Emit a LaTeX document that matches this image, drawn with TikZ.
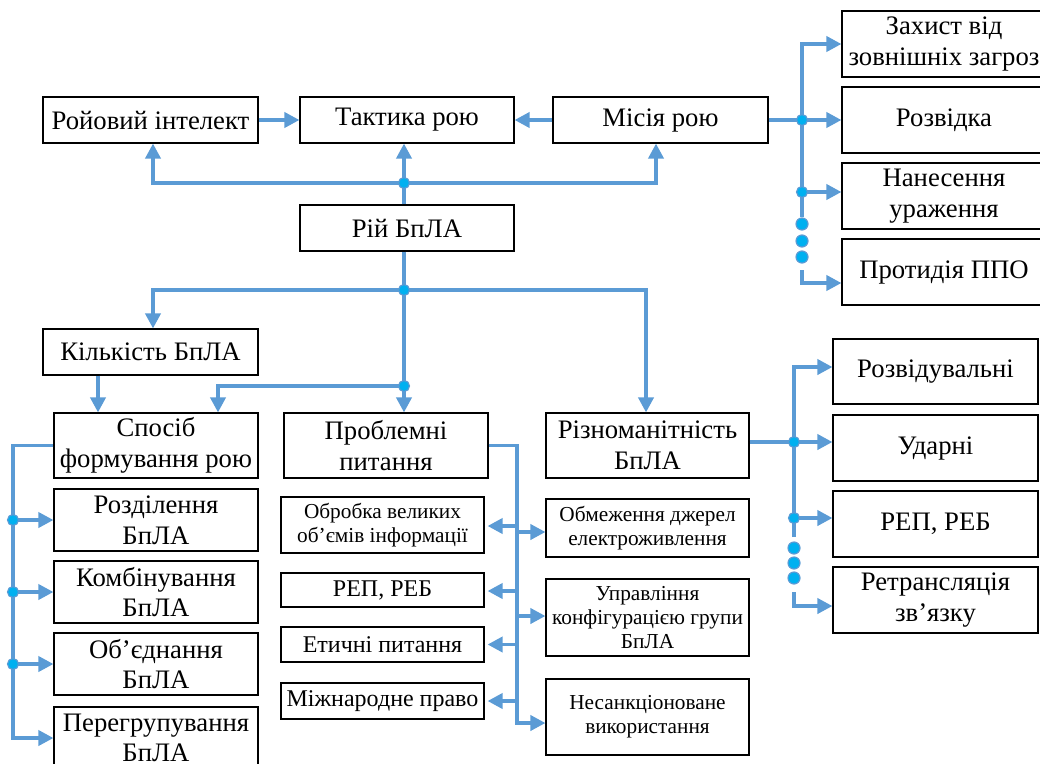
\documentclass[tikz,border=0pt]{standalone}
\usepackage{fontspec}
\setmainfont{Liberation Serif}
\usetikzlibrary{arrows.meta}
\definecolor{ln}{RGB}{91,155,213}
\definecolor{dotc}{RGB}{0,176,240}
\newcommand\fzA{\fontsize{26.7}{30.7}\selectfont}
\newcommand\fzB{\fontsize{24}{27.6}\selectfont}
\newcommand\fzC{\fontsize{21.3}{23.6}\selectfont}
\begin{document}
\begin{tikzpicture}[x=1pt,y=-1pt,
  box/.style={draw=black,line width=1.1pt,inner sep=0pt,align=center,font=\fzA},
  conn/.style={draw=ln,line width=3.6pt},
  arr/.style={conn,-{Triangle[length=15pt,width=15pt]}},
  jd/.style={circle,fill=dotc,draw=ln,line width=1.2pt,minimum size=11pt,inner sep=0pt},
  ed/.style={circle,fill=dotc,draw=ln,line width=1.2pt,minimum size=12pt,inner sep=0pt}]
\useasboundingbox (0,0) rectangle (1040,763);
\clip (0,0) rectangle (1040,763);
% top row
\node[box,minimum width=215pt,minimum height=46pt] (roi) at (150.5,120) {Ройовий інтелект};
\node[box,minimum width=214pt,minimum height=46pt] (takt) at (407,120) {Тактика рою};
\node[box,minimum width=215pt,minimum height=46pt] (misia) at (660.5,120) {Місія рою};
\node[box,minimum width=214pt,minimum height=46pt] (rii) at (407,228) {Рій БпЛА};
\node[box,minimum width=215pt,minimum height=46pt] (kilk) at (150.5,352) {Кількість БпЛА};
% second level
\node[box,minimum width=204pt,minimum height=65pt] (sposib) at (156,445.5) {Спосіб\\формування рою};
\node[box,minimum width=204pt,minimum height=65pt] (probl) at (386,445.5) {Проблемні\\питання};
\node[box,minimum width=203pt,minimum height=65pt] (rizn) at (647.5,445.5) {Різноманітність\\БпЛА};
% left column
\node[box,minimum width=204pt,minimum height=62pt] (rozd) at (156,520) {Розділення\\БпЛА};
\node[box,minimum width=204pt,minimum height=62pt] (komb) at (156,592) {Комбінування\\БпЛА};
\node[box,minimum width=204pt,minimum height=62pt] (obied) at (156,664) {Об’єднання\\БпЛА};
\node[box,minimum width=204pt,minimum height=62pt] (pereg) at (156,738) {Перегрупування\\БпЛА};
% middle columns
\node[box,font=\fzC,minimum width=203pt,minimum height=56pt] (obrob) at (382.5,525) {Обробка великих\\об’ємів інформації};
\node[box,font=\fzB,minimum width=203pt,minimum height=34pt] (rep1) at (382.5,590) {РЕП, РЕБ};
\node[box,font=\fzB,minimum width=203pt,minimum height=35pt] (etych) at (382.5,644.5) {Етичні питання};
\node[box,font=\fzB,minimum width=203pt,minimum height=36pt] (mizhn) at (382.5,701) {Міжнародне право};
\node[box,font=\fzC,minimum width=203pt,minimum height=58pt] (obmezh) at (647.5,528) {Обмеження джерел\\електроживлення};
\node[box,font=\fzC,minimum width=203pt,minimum height=77pt] (uprav) at (647.5,617.5) {Управління\\конфігурацією групи\\БпЛА};
\node[box,font=\fzC,minimum width=203pt,minimum height=76pt] (nesank) at (647.5,717) {Несанкціоноване\\використання};
% right top column
\node[box,minimum width=204pt,minimum height=66pt] (zakh) at (944,44) {Захист від\\зовнішніх загроз};
\node[box,minimum width=204pt,minimum height=66pt] (rozv) at (944,120) {Розвідка};
\node[box,minimum width=204pt,minimum height=66pt] (nanes) at (944,196) {Нанесення\\ураження};
\node[box,minimum width=204pt,minimum height=66pt] (protyd) at (944,272) {Протидія ППО};
% right bottom column
\node[box,minimum width=205pt,minimum height=65pt] (rozvid) at (935.5,371.5) {Розвідувальні};
\node[box,minimum width=205pt,minimum height=66pt] (udar) at (935.5,448) {Ударні};
\node[box,minimum width=205pt,minimum height=66pt] (rep2) at (935.5,524) {РЕП, РЕБ};
\node[box,minimum width=205pt,minimum height=66pt] (retr) at (935.5,600) {Ретрансляція\\зв’язку};
% junction coordinates
\coordinate (j1) at (404,183);
\coordinate (j2) at (404,290);
\coordinate (j3) at (404,386);
\coordinate (lb) at (13,446);
\coordinate (mb) at (517,446);
\coordinate (rb1) at (802,120);
\coordinate (rb1e) at (802,217);
\coordinate (rb1s) at (802,270);
\coordinate (rb2) at (794,442);
\coordinate (rb2e) at (794,537);
\coordinate (rb2s) at (794,592);
% top connectors
\draw[arr] (roi.east) -- (takt.west);
\draw[arr] (misia.west) -- (takt.east);
\draw[conn] (j1 |- rii.north) -- (j1);
\draw[arr] (j1) -- (j1 |- takt.south);
\draw[arr] (j1) -| ([xshift=2.5pt]roi.south);
\draw[arr] (j1) -| ([xshift=-4.5pt]misia.south);
% lower connectors
\draw[conn] (j2 |- rii.south) -- (j2);
\draw[arr] (j2) -| ([xshift=2.5pt]kilk.north);
\draw[arr] (j2) -| ([xshift=-1.5pt]rizn.north);
\draw[arr] (j2) -- (j2 |- probl.north);
\draw[arr] (j3) -| ([xshift=62pt]sposib.north);
\draw[arr] ([xshift=-52.5pt]kilk.south) -- ([xshift=-52.5pt]kilk.south |- sposib.north);
% left bus
\draw[arr] (sposib.west) -- (lb |- sposib.west) -- (lb |- pereg.west) -- (pereg.west);
\draw[arr] (lb |- rozd.west) -- (rozd.west);
\draw[arr] (lb |- komb.west) -- (komb.west);
\draw[arr] (lb |- obied.west) -- (obied.west);
% middle bus
\draw[arr] (probl.east) -- (mb |- probl.east) |- ([yshift=-6pt]nesank.west);
\draw[arr] ([yshift=-1pt]obrob.east -| mb) -- ([xshift=3pt,yshift=-1pt]obrob.east);
\draw[arr] ([yshift=-1pt]rep1.east -| mb) -- ([xshift=3pt,yshift=-1pt]rep1.east);
\draw[arr] (etych.east -| mb) -- ([xshift=3pt]etych.east);
\draw[arr] (mizhn.east -| mb) -- ([xshift=3pt]mizhn.east);
\draw[arr] ([yshift=-4pt]obmezh.west -| mb) -- ([yshift=-4pt]obmezh.west);
\draw[arr] ([yshift=1.5pt]uprav.west -| mb) -- ([yshift=1.5pt]uprav.west);
% right upper bus
\draw[arr] (misia.east) -- (rozv.west);
\draw[arr] (rb1e) -- (rb1 |- zakh.west) -- (zakh.west);
\draw[arr] ([yshift=4pt]nanes.west -| rb1) -- ([yshift=4pt]nanes.west);
\draw[arr] (rb1s) |- ([yshift=-11pt]protyd.west);
% right lower bus
\draw[arr] ([yshift=3.5pt]rizn.east) -- ([yshift=3.5pt]rizn.east -| udar.west);
\draw[arr] (rb2e) -- ([yshift=4.5pt]rozvid.west -| rb2) -- ([yshift=4.5pt]rozvid.west);
\draw[arr] ([yshift=6pt]rep2.west -| rb2) -- ([yshift=6pt]rep2.west);
\draw[arr] (rb2s) |- ([yshift=-6pt]retr.west);
% dots
\node[jd] (d1) at (j1) {};
\node[jd] (d2) at (j2) {};
\node[jd] (d3) at (j3) {};
\node[jd] (d4) at (lb |- rozd.west) {};
\node[jd] (d5) at (lb |- komb.west) {};
\node[jd] (d6) at (lb |- obied.west) {};
\node[jd] (d7) at (rb1) {};
\node[jd] (d8) at ([yshift=4pt]nanes.west -| rb1) {};
\node[jd] (d9) at (rb2) {};
\node[jd] (d10) at ([yshift=6pt]rep2.west -| rb2) {};
\node[ed] (e1) at (802,224) {};
\node[ed] (e2) at (802,241) {};
\node[ed] (e3) at (802,257) {};
\node[ed] (e4) at (794,548) {};
\node[ed] (e5) at (794,563) {};
\node[ed] (e6) at (794,578) {};
\end{tikzpicture}
\end{document}
